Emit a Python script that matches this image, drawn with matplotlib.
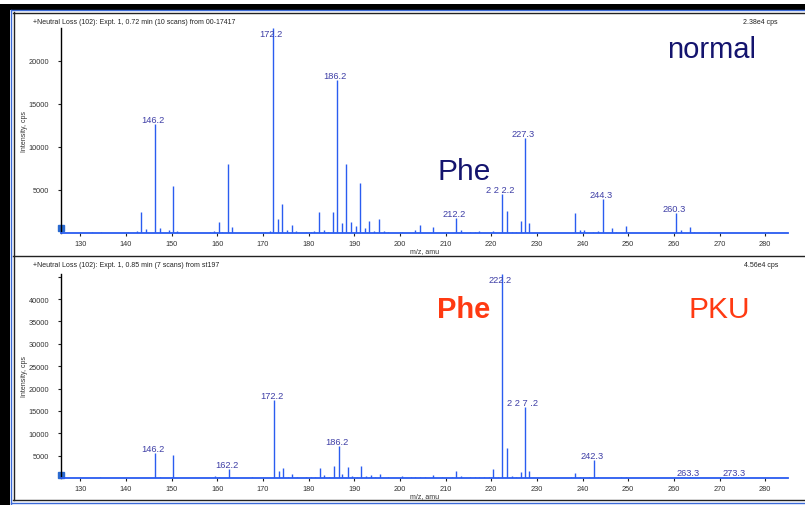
import matplotlib
matplotlib.use("Agg")
import matplotlib.pyplot as plt
from matplotlib.lines import Line2D
from matplotlib.patches import Rectangle

plt.rcParams['font.family'] = ['Liberation Sans', 'DejaVu Sans']

# normal sample (top), m/z and intensity (cps)
top_mz = [132.5, 134.5, 140.5, 142.5, 143.3, 144.5, 146.3, 147.4, 149.5, 150.3,
          151.3, 158.5, 159.3, 160.3, 161.0, 162.3, 163.3, 170.5, 171.5, 172.3,
          173.3, 174.3, 175.3, 176.3, 177.3, 179.5, 180.5, 181.3, 182.3, 183.3,
          184.3, 185.3, 186.3, 187.3, 188.3, 189.3, 190.3, 191.3, 192.3, 193.3,
          194.3, 195.4, 196.5, 197.5, 200.5, 203.4, 204.4, 207.3, 210.6, 212.4,
          213.5, 215.3, 216.5, 217.4, 220.4, 222.4, 223.4, 224.5, 225.4, 226.5,
          227.4, 228.3, 238.4, 239.5, 240.4, 242.4, 243.4, 244.5, 246.4, 247.4,
          249.5, 260.5, 261.5, 263.6, 264.5, 267.7, 280.7]
top_int = [100, 150, 150, 230, 2450, 460, 12600, 580, 350, 5500,
           200, 80, 200, 1300, 100, 8000, 650, 100, 250, 23800,
           1620, 3350, 350, 960, 200, 80, 100, 230, 2450, 350,
           100, 2450, 17800, 1150, 8000, 1270, 810, 5850, 580, 1400,
           230, 1620, 230, 150, 150, 310, 890, 650, 80, 1730,
           310, 150, 150, 230, 230, 4470, 2540, 150, 150, 1350,
           11000, 1120, 2270, 390, 390, 150, 230, 3890, 580, 150,
           810, 2270, 350, 650, 150, 100, 80]

# PKU sample (bottom)
bot_mz = [134.4, 143.3, 146.3, 147.5, 150.3, 157.5, 158.4, 159.5, 160.5, 162.5,
          167.6, 172.5, 173.5, 174.4, 175.5, 176.4, 177.5, 179.5, 180.6, 181.5,
          182.6, 183.5, 184.5, 185.6, 186.6, 187.4, 188.6, 189.5, 190.6, 191.6,
          192.5, 193.6, 194.5, 195.6, 197.5, 200.5, 202.5, 203.4, 204.4, 205.4,
          207.3, 209.3, 211.5, 212.4, 213.5, 215.3, 216.5, 217.4, 218.5, 219.5,
          220.4, 221.5, 222.4, 223.4, 224.5, 225.4, 226.5, 227.4, 228.3, 229.4,
          231.4, 235.4, 236.3, 237.4, 238.4, 239.5, 241.4, 242.5, 243.4, 244.5,
          245.5, 246.4, 247.4, 248.5, 249.5, 250.6, 253.5, 257.5, 258.5, 259.6,
          261.5, 262.5, 263.6, 265.6, 267.7, 268.8, 270.8, 273.6, 275.8, 276.7,
          279.6]
bot_int = [220, 100, 5600, 300, 5230, 100, 100, 370, 300, 2000,
           300, 17400, 1490, 2300, 300, 820, 150, 150, 220, 300,
           2170, 670, 150, 2760, 7170, 820, 2460, 450, 300, 2610,
           450, 670, 220, 820, 150, 450, 150, 150, 300, 150,
           670, 150, 150, 1490, 450, 150, 150, 150, 150, 150,
           2020, 300, 45600, 6720, 450, 300, 1270, 15840, 1570, 100,
           100, 100, 100, 300, 1050, 300, 300, 4030, 220, 100,
           100, 100, 100, 220, 220, 100, 100, 100, 100, 100,
           150, 100, 150, 100, 100, 100, 100, 150, 100, 100,
           100]

top_labels = ["146.2", "172.2", "186.2", "212.2", "2 2 2.2", "227.3", "244.3", "260.3"]
top_label_mz = [146.3, 172.3, 186.3, 212.4, 222.4, 227.4, 244.5, 260.5]
bot_labels = ["146.2", "162.2", "172.2", "186.2", "222.2", "2 2 7 .2", "242.3", "263.3", "273.3"]
bot_label_mz = [146.3, 162.5, 172.5, 186.6, 222.4, 227.4, 242.5, 263.6, 273.6]

top_title = "+Neutral Loss (102): Expt. 1, 0.72 min (10 scans) from 00-17417"
bot_title = "+Neutral Loss (102): Expt. 1, 0.85 min (7 scans) from st197"
top_max = 23800
bot_max = 45600

W, H = 805, 506
fig = plt.figure(figsize=(W / 100, H / 100), dpi=100)

bar_c = "#2a5cf0"
lab_c = "#3f3fa6"
dark = "#14146e"
red = "#ff3a12"


def px(x, y):
    return x / W, 1 - y / H


def spectrum(rect, mz, inten, labels, label_mz, ymax, yticks):
    ax = fig.add_axes(rect)
    ax.vlines(mz, 0, inten, color=bar_c, lw=1.0)
    ax.set_xlim(125.8, 285)
    ax.set_ylim(0, ymax)
    for s in ['top', 'right']:
        ax.spines[s].set_visible(False)
    ax.spines['left'].set_color('black')
    ax.spines['left'].set_linewidth(1.0)
    ax.spines['bottom'].set_color(bar_c)
    ax.spines['bottom'].set_linewidth(1.3)
    ax.set_xticks(range(130, 281, 10))
    ax.set_yticks(yticks)
    ax.set_yticklabels([str(t) if t < ymax * 0.97 and t <= 40000 else "" for t in yticks])
    ax.tick_params(axis='both', labelsize=5.3, labelcolor='#333333', color='#222222',
                   length=2.5, width=0.8)
    ax.tick_params(axis='y', pad=6)
    ax.tick_params(axis='x', pad=2.5)
    ax.set_xlabel("m/z, amu", fontsize=5, color='#333333')
    ax.xaxis.set_label_coords(0.5, -0.07)
    ax.set_ylabel("Intensity, cps", fontsize=5, color='#333333')
    ax.yaxis.set_label_coords(-0.046, 0.5)
    ax.plot([125.8], [600], marker='s', ms=4, color='#2a6ad0', clip_on=False)
    for t, m in zip(labels, label_mz):
        h = inten[mz.index(m)]
        if h >= ymax * 0.97:
            ax.annotate(t, (m, ymax), xytext=(-1.5, -0.5), textcoords='offset points',
                        ha='center', va='top', fontsize=6.7, color=lab_c)
        else:
            ax.annotate(t, (m, h), xytext=(-1.5, 0), textcoords='offset points',
                        ha='center', va='bottom', fontsize=6.7, color=lab_c)
    return ax


ax1 = spectrum([61 / W, 1 - 234 / H, 727 / W, 205 / H], top_mz, top_int,
               top_labels, top_label_mz, top_max, [5000, 10000, 15000, 20000])
ax2 = spectrum([61 / W, 1 - 479 / H, 727 / W, 204 / H], bot_mz, bot_int,
               bot_labels, bot_label_mz, bot_max, list(range(5000, 45001, 5000)))

# panel headers
fig.text(*px(33, 24.5), top_title, fontsize=5, color='#222222', va='baseline')
fig.text(*px(778, 24.5), "2.38e4 cps", fontsize=5, color='#222222', va='baseline', ha='right')
fig.text(*px(33, 267.5), bot_title, fontsize=5, color='#222222', va='baseline')
fig.text(*px(778, 267.5), "4.56e4 cps", fontsize=5, color='#222222', va='baseline', ha='right')

# annotations
fig.text(*px(667, 58), "normal", fontsize=21, color=dark, va='baseline')
fig.text(*px(437, 180), "Phe", fontsize=21.5, color=dark, va='baseline')
fig.text(*px(437, 318), "Phe", fontsize=21, color=red, va='baseline', fontweight='bold')
fig.text(*px(688, 318), "PKU", fontsize=21.5, color=red, va='baseline')

# window frame
fig.add_artist(Rectangle(px(0, 506), 10 / W, 501 / H, transform=fig.transFigure,
                         color='black', lw=0))
fig.add_artist(Rectangle(px(0, 11), 1, 6 / H, transform=fig.transFigure,
                         color='black', lw=0))
for (x0, y0, x1, y1, c) in [(11, 11, 805, 11, '#3a6ad8'), (11, 11, 11, 506, '#3a6ad8'),
                            (13, 13.5, 805, 13.5, '#222222'), (13.5, 13, 13.5, 501, '#222222'),
                            (13, 256.5, 805, 256.5, '#222222'), (13, 501, 805, 501, '#222222'),
                            (11, 503.5, 805, 503.5, '#3a6ad8')]:
    fig.add_artist(Line2D([x0 / W, x1 / W], [1 - y0 / H, 1 - y1 / H],
                          transform=fig.transFigure, color=c, lw=1.0))

fig.savefig("out.png", dpi=100)
